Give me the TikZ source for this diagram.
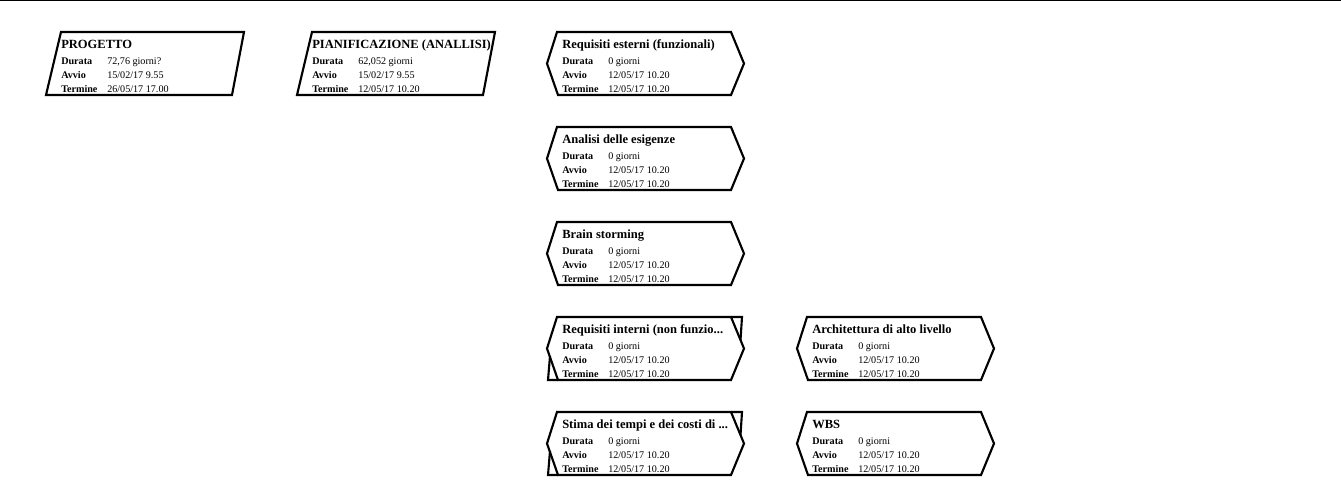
\documentclass[tikz,border=0pt]{standalone}
\usepackage{fontspec}
\setmainfont{Liberation Serif}
\usetikzlibrary{calc}
\begin{document}
\begin{tikzpicture}[x=0.75pt,y=-0.75pt,
  boxline/.style={draw=black,line width=1.6pt,line join=miter},
  ttl/.style={anchor=base west,inner sep=0pt,font=\fontsize{9.4pt}{11pt}\selectfont\bfseries},
  lbl/.style={anchor=base west,inner sep=0pt,font=\fontsize{7.6pt}{9pt}\selectfont\bfseries},
  val/.style={anchor=base west,inner sep=0pt,font=\fontsize{7.6pt}{9pt}\selectfont}]
\useasboundingbox (0,0) rectangle (1341,497);
\draw[line width=1.2pt] (0,0.6) -- (1341,0.6);

% task fields: name, position, title, duration, start, end
\newcommand\taskfields[6]{%
  \node[ttl] (#1-t) at ($(#2)+(15,16)$) {#3};
  \node[lbl] (#1-dl) at ($(#2)+(15,32)$) {Durata};
  \node[val] (#1-dv) at ($(#2)+(61,32)$) {#4};
  \node[lbl] (#1-al) at ($(#2)+(15,46)$) {Avvio};
  \node[val] (#1-av) at ($(#2)+(61,46)$) {#5};
  \node[lbl] (#1-el) at ($(#2)+(15,60)$) {Termine};
  \node[val] (#1-ev) at ($(#2)+(61,60)$) {#6};}
% summary task: parallelogram
\newcommand\sumtask[6]{%
  \coordinate (#1) at (#2);
  \draw[boxline] ($(#1)+(15,0)$) -- ($(#1)+(198,0)$) -- ($(#1)+(186,63)$) -- ($(#1)+(0,63)$) -- cycle;
  \taskfields{#1}{#1}{#3}{#4}{#5}{#6}}
% milestone: hexagon
\newcommand\miltask[6]{%
  \coordinate (#1) at (#2);
  \draw[boxline] ($(#1)+(10,0)$) -- ($(#1)+(184,0)$) -- ($(#1)+(197,31.5)$) -- ($(#1)+(184,63)$) -- ($(#1)+(11,63)$) -- ($(#1)+(0,31.5)$) -- cycle;
  \taskfields{#1}{#1}{#3}{#4}{#5}{#6}}
% corner flags on critical milestones
\newcommand\flagcorners[1]{%
  \draw[boxline] ($(#1)+(184,0)$) -- ($(#1)+(195,0)$) -- ($(#1)+(193.5,23)$);
  \draw[boxline] ($(#1)+(11,63)$) -- ($(#1)+(1,63)$) -- ($(#1)+(3,39)$);}

\sumtask{prog}{46,32}{PROGETTO}{72,76 giorni?}{15/02/17 9.55}{26/05/17 17.00}
\sumtask{pian}{297,32}{PIANIFICAZIONE (ANALLISI)}{62,052 giorni}{15/02/17 9.55}{12/05/17 10.20}
\miltask{reqe}{547,32}{Requisiti esterni (funzionali)}{0 giorni}{12/05/17 10.20}{12/05/17 10.20}
\miltask{anal}{547,127}{Analisi delle esigenze}{0 giorni}{12/05/17 10.20}{12/05/17 10.20}
\miltask{brain}{547,222}{Brain storming}{0 giorni}{12/05/17 10.20}{12/05/17 10.20}
\miltask{reqi}{547,317}{Requisiti interni (non funzio...}{0 giorni}{12/05/17 10.20}{12/05/17 10.20}
\flagcorners{reqi}
\miltask{stima}{547,412}{Stima dei tempi e dei costi di ...}{0 giorni}{12/05/17 10.20}{12/05/17 10.20}
\flagcorners{stima}
\miltask{arch}{797,317}{Architettura di alto livello}{0 giorni}{12/05/17 10.20}{12/05/17 10.20}
\miltask{wbs}{797,412}{WBS}{0 giorni}{12/05/17 10.20}{12/05/17 10.20}
\end{tikzpicture}
\end{document}
